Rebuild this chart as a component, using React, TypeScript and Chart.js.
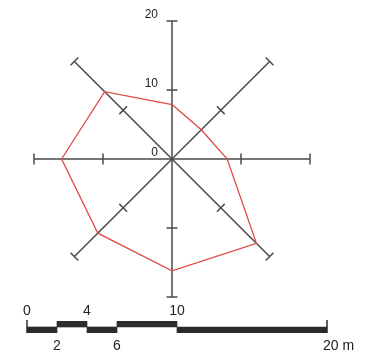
import React, { useEffect, useRef } from "react";
import { Chart, registerables } from "chart.js";

Chart.register(...registerables);

// Radar data: 8 directions, clockwise from north
const directions = ["N", "NE", "E", "SE", "S", "SW", "W", "NW"];
const distances = [7.9, 6.0, 8.0, 17.3, 16.2, 15.2, 16.0, 13.8];
const axisTickValues = [10, 20];
const axisLabelValues = [0, 10, 20];

// Scale bar (metres)
const barHighSegments: [number, number][] = [[2, 4], [6, 10]];
const barLowSegments: [number, number][] = [[0, 2], [4, 6], [10, 20]];
const barTopLabels = ["0", "4", "10"];
const barTopLabelValues = [0, 4, 10];
const barBottomLabels = ["2", "6", "20 m"];
const barBottomLabelValues = [2, 6, 20];
const barEnds = [0, 20];

const FONT = "'Liberation Sans', Arial, sans-serif";
const AXIS_COLOR = "#4a4a4a";
const TEXT_COLOR = "#222";

const radarDecor = {
  id: "radarDecor",
  beforeDatasetsDraw(chart: any) {
    const scale = chart.scales.r;
    const ctx = chart.ctx;
    ctx.save();
    ctx.strokeStyle = AXIS_COLOR;
    ctx.lineWidth = 1.5;
    for (let i = 0; i < directions.length; i++) {
      const a = scale.getIndexAngle(i) - Math.PI / 2;
      const px = -Math.sin(a);
      const py = Math.cos(a);
      for (const v of axisTickValues) {
        const p = scale.getPointPositionForValue(i, v);
        ctx.beginPath();
        ctx.moveTo(p.x - px * 5.5, p.y - py * 5.5);
        ctx.lineTo(p.x + px * 5.5, p.y + py * 5.5);
        ctx.stroke();
      }
    }
    ctx.fillStyle = TEXT_COLOR;
    ctx.font = `12px ${FONT}`;
    ctx.textAlign = "right";
    ctx.textBaseline = "alphabetic";
    for (const v of axisLabelValues) {
      const p = scale.getPointPositionForValue(0, v);
      ctx.fillText(String(v), p.x - 14, p.y - 3);
    }
    ctx.restore();
  },
};

const scaleBarDecor = {
  id: "scaleBarDecor",
  afterDatasetsDraw(chart: any) {
    const x = chart.scales.x;
    const area = chart.chartArea;
    const ctx = chart.ctx;
    ctx.save();
    ctx.strokeStyle = "#2b2b2b";
    ctx.lineWidth = 1.5;
    for (const v of barEnds) {
      const px = x.getPixelForValue(v);
      ctx.beginPath();
      ctx.moveTo(px, area.top - 1);
      ctx.lineTo(px, area.bottom);
      ctx.stroke();
    }
    ctx.fillStyle = TEXT_COLOR;
    ctx.font = `14px ${FONT}`;
    ctx.textAlign = "center";
    ctx.textBaseline = "alphabetic";
    barTopLabels.forEach((t, i) => {
      ctx.fillText(t, x.getPixelForValue(barTopLabelValues[i]), area.top - 6);
    });
    barBottomLabels.forEach((t, i) => {
      let px = x.getPixelForValue(barBottomLabelValues[i]);
      if (t.length > 2) {
        ctx.textAlign = "left";
        px -= 4;
      } else {
        ctx.textAlign = "center";
      }
      ctx.fillText(t, px, area.bottom + 17);
    });
    ctx.restore();
  },
};

export default function App() {
  const radarRef = useRef<HTMLCanvasElement>(null);
  const barRef = useRef<HTMLCanvasElement>(null);

  useEffect(() => {
    const radar = new Chart(radarRef.current!, {
      type: "radar",
      data: {
        labels: directions,
        datasets: [
          {
            data: distances,
            borderColor: "#e04a45",
            borderWidth: 1.3,
            pointRadius: 0,
            fill: false,
            tension: 0,
          },
        ],
      },
      options: {
        responsive: false,
        animation: false,
        layout: { padding: { left: 34, top: 21, right: 57, bottom: 64 } },
        plugins: { legend: { display: false }, tooltip: { enabled: false } },
        scales: {
          r: {
            min: 0,
            max: 20,
            grid: { display: false },
            angleLines: { display: true, color: AXIS_COLOR, lineWidth: 1.5 },
            ticks: { display: false },
            pointLabels: { display: false },
          },
        },
      },
      plugins: [radarDecor],
    });

    const toPoints = (segs: [number, number][], row: string) =>
      segs.map((s) => ({ x: s, y: row }));

    const bar = new Chart(barRef.current!, {
      type: "bar",
      data: {
        labels: ["high", "low"],
        datasets: [
          {
            data: [...toPoints(barHighSegments, "high"), ...toPoints(barLowSegments, "low")] as any,
            backgroundColor: "#2b2b2b",
            borderWidth: 0,
            categoryPercentage: 1,
            barPercentage: 1,
          },
        ],
      },
      options: {
        indexAxis: "y",
        responsive: false,
        animation: false,
        layout: { padding: { left: 27, right: 40, top: 21, bottom: 28 } },
        plugins: { legend: { display: false }, tooltip: { enabled: false } },
        scales: {
          x: { type: "linear", min: 0, max: 20, display: false },
          y: { type: "category", display: false },
        },
      },
      plugins: [scaleBarDecor],
    });

    return () => {
      radar.destroy();
      bar.destroy();
    };
  }, []);

  return (
    <div style={{ position: "absolute", left: 0, top: 0, width: 367, height: 361, background: "#fff" }}>
      <canvas ref={radarRef} width={367} height={361} style={{ position: "absolute", left: 0, top: 0 }} />
      <canvas ref={barRef} width={367} height={61} style={{ position: "absolute", left: 0, top: 300 }} />
    </div>
  );
}
